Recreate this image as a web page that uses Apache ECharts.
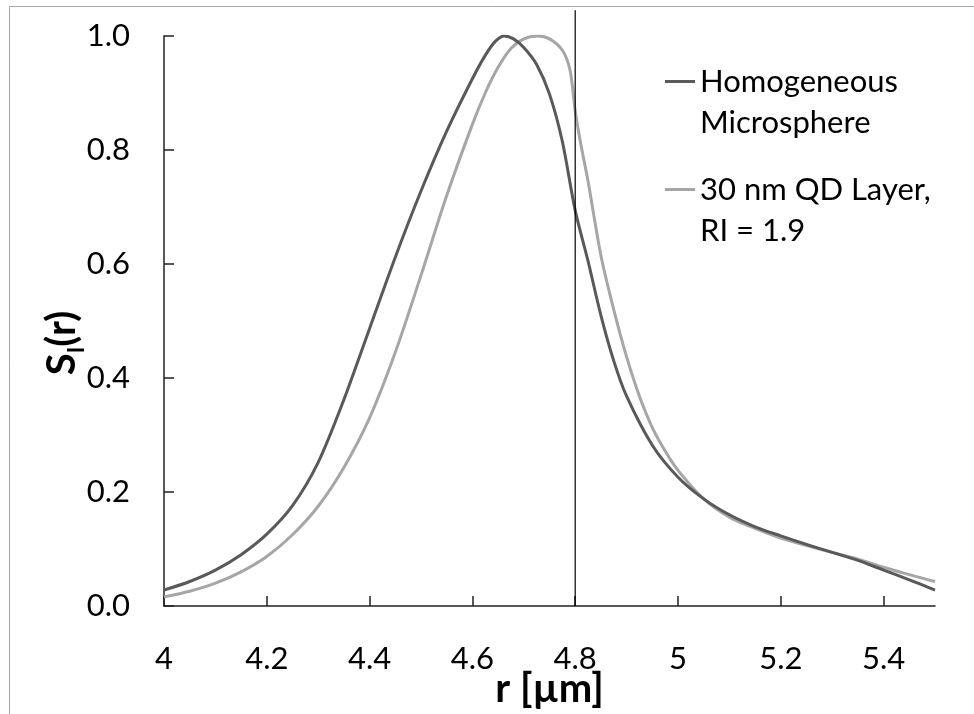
<!DOCTYPE html>
<html>
<head>
<meta charset="utf-8">
<script src="https://cdn.jsdelivr.net/npm/echarts@6/dist/echarts.min.js"></script>
<style>html,body{margin:0;padding:0;background:#fff}#c{width:974px;height:714px}</style>
</head>
<body>
<div id="c"></div>
<script>
// r values [µm] and S_I(r) for homogeneous microsphere
var rHom = [4.00,4.05,4.10,4.15,4.20,4.25,4.30,4.35,4.40,4.45,4.50,4.55,4.60,4.625,4.645,4.662,4.68,4.70,4.725,4.75,4.775,4.80,4.825,4.85,4.875,4.90,4.95,5.00,5.05,5.10,5.15,5.20,5.25,5.30,5.35,5.40,5.45,5.50];
var sHom = [0.028,0.043,0.063,0.090,0.126,0.176,0.252,0.362,0.487,0.612,0.728,0.833,0.925,0.966,0.991,1.000,0.995,0.980,0.950,0.898,0.815,0.694,0.605,0.510,0.430,0.368,0.282,0.226,0.188,0.160,0.139,0.123,0.108,0.094,0.080,0.063,0.046,0.028];
// r values and S_I(r) for 30 nm QD layer, RI = 1.9
var rQD = [4.00,4.05,4.10,4.15,4.20,4.25,4.30,4.35,4.40,4.45,4.50,4.55,4.60,4.625,4.65,4.675,4.70,4.727,4.75,4.775,4.79,4.80,4.81,4.825,4.85,4.875,4.90,4.925,4.95,4.975,5.00,5.05,5.10,5.15,5.20,5.25,5.30,5.35,5.40,5.45,5.50];
var sQD = [0.016,0.026,0.040,0.060,0.087,0.125,0.175,0.243,0.330,0.445,0.580,0.720,0.845,0.900,0.945,0.978,0.995,1.000,0.995,0.975,0.940,0.869,0.815,0.745,0.615,0.520,0.437,0.368,0.313,0.272,0.238,0.188,0.156,0.136,0.119,0.106,0.094,0.082,0.068,0.055,0.043];
// vertical reference line at r = 4.8
var markerR = [4.8, 4.8];
var markerS = [0, 1.045];
var xTicks = [4, 4.2, 4.4, 4.6, 4.8, 5, 5.2, 5.4];
var seriesNames = ['Homogeneous\nMicrosphere', '30 nm QD Layer,\nRI = 1.9'];

function pairs(xs, ys) { return xs.map(function (x, i) { return [x, ys[i]]; }); }

var FONT = 'Lato';
var chart = echarts.init(document.getElementById('c'), null, {renderer: 'canvas'});
chart.setOption({
  animation: false,
  backgroundColor: '#fff',
  textStyle: {fontFamily: FONT},
  graphic: [{
    type: 'polyline', silent: true,
    shape: {points: [[9.5, 714], [9.5, 6.5], [974, 6.5]]},
    style: {stroke: '#a6a6a6', lineWidth: 1, fill: null}
  }],
  grid: {left: 164, right: 39, top: 36, bottom: 108, containLabel: false, outerBoundsMode: 'none'},
  legend: {
    orient: 'vertical', left: 665, top: 20, padding: 0,
    data: seriesNames, icon: 'rect', itemWidth: 30, itemHeight: 3, itemGap: -15,
    selectedMode: false,
    formatter: function (n) { return '\n' + n; },
    textStyle: {fontFamily: FONT, fontSize: 31, color: '#000', lineHeight: 41}
  },
  xAxis: {
    type: 'value', min: 4, max: 5.5,
    name: 'r [µm]', nameLocation: 'middle', nameGap: 63, nameMoveOverlap: false,
    nameTextStyle: {fontFamily: FONT, fontSize: 40, fontWeight: 'bold', color: '#000'},
    axisLine: {show: true, lineStyle: {color: '#222', width: 1.5}},
    axisTick: {show: true, inside: true, length: 10, customValues: xTicks, lineStyle: {color: '#222', width: 1.5}},
    axisLabel: {customValues: xTicks, margin: 37, fontFamily: FONT, fontSize: 31, color: '#000',
      formatter: function (v) { return String(+v.toFixed(1)); }},
    splitLine: {show: false}
  },
  yAxis: {
    type: 'value', min: 0, max: 1, interval: 0.2,
    name: '{a|S}{b|I}{a|(r)}', nameLocation: 'middle', nameRotate: 90, nameGap: 82, nameMoveOverlap: false,
    nameTextStyle: {padding: [0, 44, 0, 0],
      rich: {
        a: {fontFamily: FONT, fontSize: 40, fontWeight: 'bold', color: '#000', lineHeight: 44, verticalAlign: 'bottom'},
        b: {fontFamily: FONT, fontSize: 22, fontWeight: 'bold', color: '#000', lineHeight: 44, verticalAlign: 'bottom', padding: [0, 0, -6, 0]}
      }},
    axisLine: {show: true, lineStyle: {color: '#222', width: 1.5}},
    axisTick: {show: true, inside: true, length: 10, lineStyle: {color: '#222', width: 1.5}},
    axisLabel: {margin: 34, fontFamily: FONT, fontSize: 31, color: '#000',
      formatter: function (v) { return v.toFixed(1); }},
    splitLine: {show: false}
  },
  series: [
    {name: seriesNames[0], type: 'line', data: pairs(rHom, sHom), smooth: 0.3, showSymbol: false,
      lineStyle: {color: '#595959', width: 3}, itemStyle: {color: '#595959'}, z: 3},
    {name: seriesNames[1], type: 'line', data: pairs(rQD, sQD), smooth: 0.3, showSymbol: false,
      lineStyle: {color: '#a6a6a6', width: 3}, itemStyle: {color: '#a6a6a6'}, z: 2},
    {name: 'r = 4.8', type: 'line', data: pairs(markerR, markerS), showSymbol: false, clip: false,
      lineStyle: {color: '#000', width: 1.2}, z: 4}
  ]
});
</script>
</body>
</html>
